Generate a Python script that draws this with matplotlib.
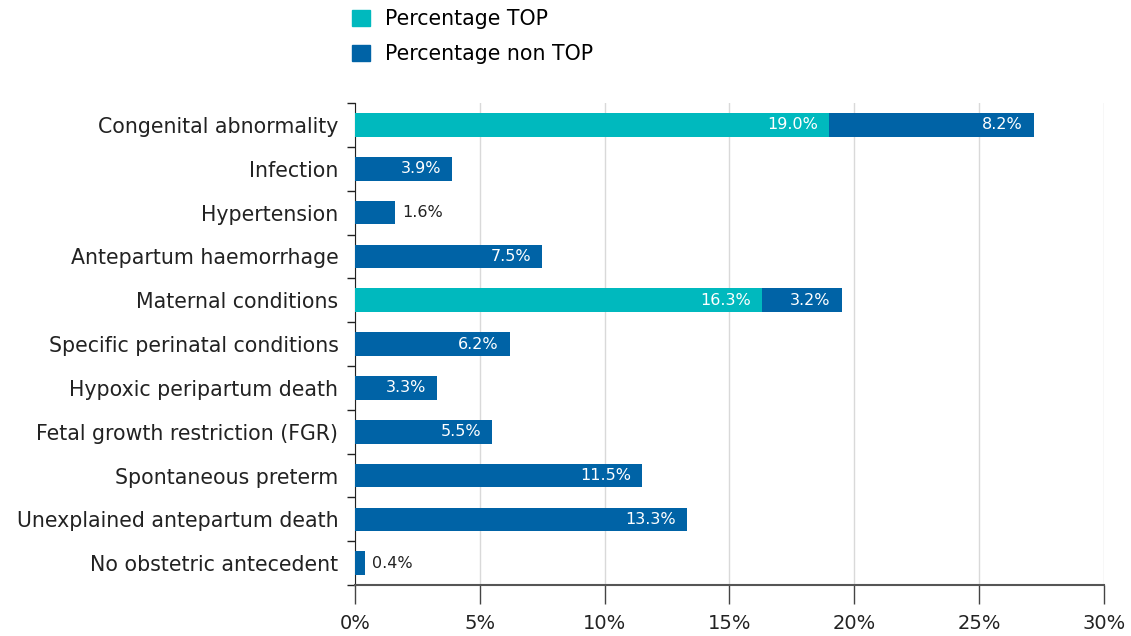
import matplotlib.pyplot as plt
import numpy as np
from matplotlib.patches import Patch

plt.rcParams['font.family'] = ['DejaVu Sans']

categories = ['Congenital abnormality', 'Infection', 'Hypertension', 'Antepartum haemorrhage',
              'Maternal conditions', 'Specific perinatal conditions', 'Hypoxic peripartum death',
              'Fetal growth restriction (FGR)', 'Spontaneous preterm', 'Unexplained antepartum death',
              'No obstetric antecedent']
top = [19.0, 0, 0, 0, 16.3, 0, 0, 0, 0, 0, 0]
non_top = [8.2, 3.9, 1.6, 7.5, 3.2, 6.2, 3.3, 5.5, 11.5, 13.3, 0.4]
xticks = [0, 5, 10, 15, 20, 25, 30]

c_top = '#00B9BE'
c_non = '#0063A6'
dark = '#222222'

fig = plt.figure(figsize=(11.31, 6.36), dpi=100)
ax = fig.add_axes([0.314, 0.080, 0.662, 0.758])

y = np.arange(len(categories))
h = 0.54
ax.barh(y, top, height=h, color=c_top, zorder=3)
ax.barh(y, non_top, left=top, height=h, color=c_non, zorder=3)

for i in range(len(categories)):
    if top[i] > 0:
        ax.text(top[i] - 0.45, y[i], f'{top[i]:.1f}%', ha='right', va='center',
                color='white', fontsize=11.5, zorder=4)
    end = top[i] + non_top[i]
    if non_top[i] >= 3:
        ax.text(end - 0.45, y[i], f'{non_top[i]:.1f}%', ha='right', va='center',
                color='white', fontsize=11.5, zorder=4)
    else:
        ax.text(end + 0.28, y[i], f'{non_top[i]:.1f}%', ha='left', va='center',
                color=dark, fontsize=11.5, zorder=4)

ax.set_xlim(0, 30)
ax.set_ylim(len(categories) - 0.5, -0.5)
ax.set_xticks(xticks)
ax.set_xticklabels([f'{t}%' for t in xticks], fontsize=14, color=dark)
ax.set_yticks(y)
ax.set_yticklabels(categories, fontsize=14.8, color=dark)
ax.tick_params(axis='y', length=0, pad=12)
ax.set_yticks(np.arange(-0.5, len(categories), 1), minor=True)
ax.tick_params(axis='y', which='minor', length=6, width=1, color=dark)
ax.tick_params(axis='x', length=14, width=1, color='#444444', pad=7)

ax.grid(axis='x', color='#d9d9d9', linewidth=1, zorder=0)
for s in ['top', 'right']:
    ax.spines[s].set_visible(False)
ax.spines['left'].set_color(dark)
ax.spines['bottom'].set_color('#555555')
ax.spines['bottom'].set_linewidth(1.5)

handles = [Patch(color=c_top, label='Percentage TOP'),
           Patch(color=c_non, label='Percentage non TOP')]
fig.legend(handles=handles, loc='upper left', bbox_to_anchor=(0.295, 1.015), frameon=False,
           fontsize=14.8, handlelength=0.85, handleheight=0.85, labelspacing=0.75, handletextpad=0.75)

fig.savefig('out.png', dpi=100, facecolor='white')
